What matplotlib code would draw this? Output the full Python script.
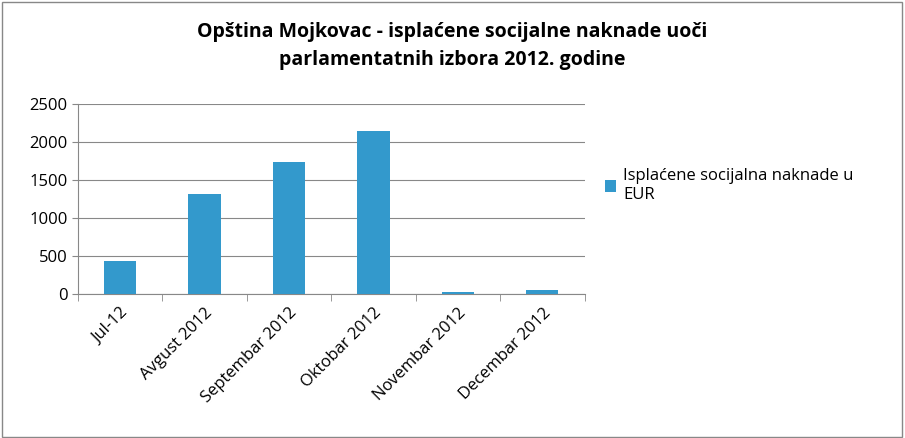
import matplotlib.pyplot as plt
from matplotlib.patches import Rectangle

months = ["Jul-12", "Avgust 2012", "Septembar 2012", "Oktobar 2012", "Novembar 2012", "Decembar 2012"]
payments = [430, 1310, 1730, 2140, 30, 45]
y_ticks = [0, 500, 1000, 1500, 2000, 2500]

plt.rcParams["font.family"] = "Open Sans"

fig = plt.figure(figsize=(9.05, 4.38), dpi=100)
fig.patches.append(Rectangle((0.002, 0.003), 0.995, 0.993, transform=fig.transFigure,
                             fill=False, edgecolor="#888888", lw=1))

ax = fig.add_axes([0.086, 0.329, 0.560, 0.434])
x = range(len(months))
ax.bar(x, payments, width=0.38, color="#3399CC", label="Isplaćene socijalna naknade u\nEUR", zorder=3)
ax.set_xlim(-0.5, len(months) - 0.5)
ax.set_ylim(0, 2500)
ax.set_yticks(y_ticks)
ax.set_xticks(list(x))
ax.set_xticklabels(months, rotation=45, ha="right", rotation_mode="anchor", fontsize=12)
ax.set_xticks([i - 0.5 for i in range(len(months) + 1)], minor=True)
ax.tick_params(axis="x", which="major", length=0, pad=8)
ax.tick_params(axis="x", which="minor", length=5, color="#888888")
ax.tick_params(axis="y", labelsize=12, length=4, color="#888888")
ax.yaxis.grid(True, color="#888888", lw=0.8, zorder=0)
for s in ["top", "right"]:
    ax.spines[s].set_visible(False)
for s in ["left", "bottom"]:
    ax.spines[s].set_color("#888888")

fig.text(0.5, 0.895, "Opština Mojkovac - isplaćene socijalne naknade uoči\nparlamentatnih izbora 2012. godine",
         ha="center", va="center", fontsize=14, fontweight="bold", linespacing=1.5)

ax.legend(loc="center left", bbox_to_anchor=(1.01, 0.57), frameon=False, fontsize=12,
          handlelength=0.7, handleheight=0.7, handletextpad=0.4)

fig.savefig("out.png", dpi=100)
